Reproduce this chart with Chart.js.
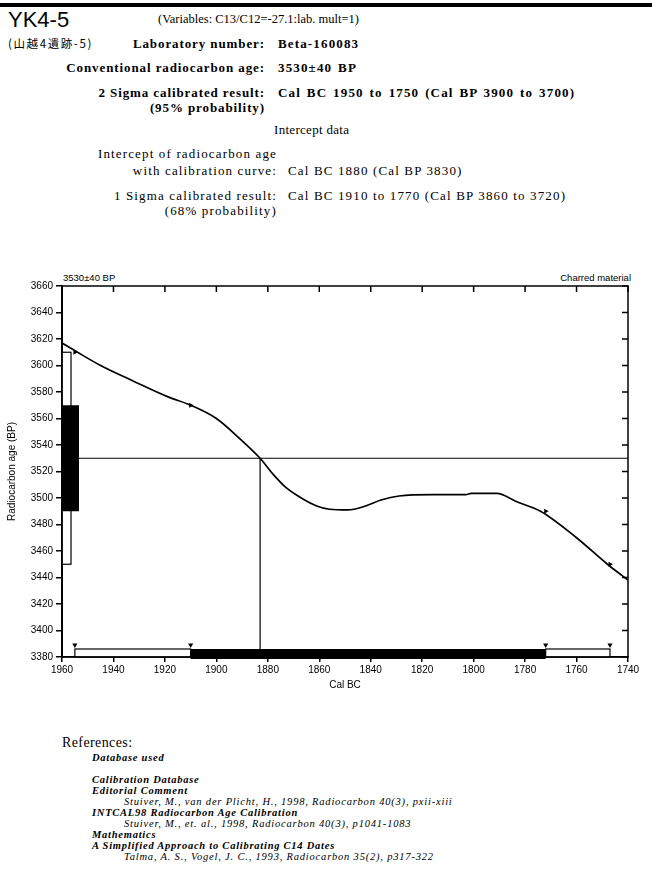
<!DOCTYPE html>
<html>
<head>
<meta charset="utf-8">
<script src="https://cdn.jsdelivr.net/npm/chart.js@4.4.0/dist/chart.umd.min.js"></script>
<style>
  html, body { margin: 0; padding: 0; background: #fff; }
  #page { position: relative; width: 652px; height: 870px; overflow: hidden; color: #000; }
  .t { position: absolute; white-space: nowrap; line-height: 1; }
  .serif { font-family: "Liberation Serif", "Times New Roman", serif; }
  .sans { font-family: "Liberation Sans", Arial, sans-serif; }
  .b { font-weight: bold; }
  .i { font-style: italic; }
  .lab { font-size: 13px; letter-spacing: 0.9px; }
  .val { font-size: 13px; letter-spacing: 1.15px; word-spacing: 1.5px; }
  .reg { font-size: 13px; letter-spacing: 1.15px; }
  .ref { font-size: 10.5px; letter-spacing: 0.75px; }
  .cite { font-size: 10.5px; letter-spacing: 0.8px; }
  #rule { position: absolute; left: 0; top: 3px; width: 652px; height: 4px; background: #000; }
  #chartBox { position: absolute; left: 0; top: 270px; width: 652px; height: 421px; }
</style>
</head>
<body>
<div id="page">
  <div id="rule"></div>
  <div class="t sans" style="left:8px;top:9px;font-size:22px;">YK4-5</div>
  <div class="t serif" style="left:158px;top:13px;font-size:12.5px;">(Variables: C13/C12=-27.1:lab. mult=1)</div>
  <div class="t" style="left:8px;top:38px;font-size:11.5px;letter-spacing:1.6px;font-family:'Noto Sans CJK JP',sans-serif;">(山越4遺跡-5)</div>

  <div class="t serif b lab" style="right:387px;top:37px;">Laboratory number:</div>
  <div class="t serif b val" style="left:278px;top:37px;">Beta-160083</div>
  <div class="t serif b lab" style="right:387px;top:61px;">Conventional radiocarbon age:</div>
  <div class="t serif b val" style="left:278px;top:61px;">3530±40 BP</div>
  <div class="t serif b lab" style="right:387px;top:86px;">2 Sigma calibrated result:</div>
  <div class="t serif b val" style="left:278px;top:86px;">Cal BC 1950 to 1750 (Cal BP 3900 to 3700)</div>
  <div class="t serif b lab" style="right:387px;top:101px;">(95% probability)</div>

  <div class="t serif" style="left:274px;top:123px;font-size:13px;letter-spacing:0.3px;">Intercept data</div>
  <div class="t serif reg" style="right:375px;top:147px;">Intercept of radiocarbon age</div>
  <div class="t serif reg" style="right:375px;top:164px;">with calibration curve:</div>
  <div class="t serif reg" style="left:288px;top:164px;">Cal BC 1880 (Cal BP 3830)</div>
  <div class="t serif reg" style="right:375px;top:189px;">1 Sigma calibrated result:</div>
  <div class="t serif reg" style="left:288px;top:189px;">Cal BC 1910 to 1770 (Cal BP 3860 to 3720)</div>
  <div class="t serif reg" style="right:375px;top:204px;">(68% probability)</div>

  <div class="t sans" style="left:63px;top:273px;font-size:9.5px;">3530±40 BP</div>
  <div class="t sans" style="right:21px;top:273px;font-size:9.5px;">Charred material</div>

  <div id="chartBox"><canvas id="calChart" width="652" height="421"></canvas></div>

  <div class="t serif" style="left:62px;top:736px;font-size:14px;letter-spacing:0.4px;">References:</div>
  <div class="t serif b i ref" style="left:92px;top:753px;">Database used</div>
  <div class="t serif b i ref" style="left:92px;top:775px;">Calibration Database</div>
  <div class="t serif b i ref" style="left:92px;top:786px;">Editorial Comment</div>
  <div class="t serif i cite" style="left:124px;top:797px;">Stuiver, M., van der Plicht, H., 1998, Radiocarbon 40(3), pxii-xiii</div>
  <div class="t serif b i ref" style="left:92px;top:808px;">INTCAL98 Radiocarbon Age Calibration</div>
  <div class="t serif i cite" style="left:124px;top:819px;">Stuiver, M., et. al., 1998, Radiocarbon 40(3), p1041-1083</div>
  <div class="t serif b i ref" style="left:92px;top:830px;">Mathematics</div>
  <div class="t serif b i ref" style="left:92px;top:841px;">A Simplified Approach to Calibrating C14 Dates</div>
  <div class="t serif i cite" style="left:124px;top:852px;">Talma, A. S., Vogel, J. C., 1993, Radiocarbon 35(2), p317-322</div>
</div>

<script>
// calibration curve (Cal BC, radiocarbon age BP)
const curveYears = [1960, 1954, 1945, 1932, 1919, 1910, 1900, 1891, 1883, 1878, 1873, 1867, 1861, 1856,
                    1849, 1842, 1836, 1829, 1816, 1803, 1801, 1791, 1783, 1774, 1760, 1748, 1742, 1740];
const curveAges = [3617, 3610, 3600, 3588, 3576.5, 3570, 3560, 3545, 3530, 3518, 3508, 3500, 3494, 3491.5,
                   3491, 3494, 3498.5, 3501.5, 3502.5, 3502.5, 3503.5, 3503.5, 3497, 3490, 3470, 3450, 3441, 3438];

// measured age and sigma ranges
const measuredAge = 3530;
const sigma1Age = [3490, 3570];
const sigma2Age = [3450, 3610];

// intercept
const interceptYear = 1883;

// calibrated ranges (Cal BC), start -> end
const sigma2Ranges = [[1955, 1910], [1772, 1747]];
const sigma1Ranges = [[1910, 1772]];

// range end markers
const rangeEnds = [1955, 1910, 1772, 1747];
const curveFlagAges = [3610, 3570, 3490, 3450];

// axes
const xMin = 1740, xMax = 1960, xStep = 20;
const yMin = 3380, yMax = 3660, yStep = 20;

const curvePoints = curveYears.map((yr, i) => ({ x: yr, y: curveAges[i] }));
const flagPoints = rangeEnds.map((yr, i) => ({ x: yr, y: curveFlagAges[i] }));
const endPoints = rangeEnds.map(yr => ({ x: yr, y: yMin + 9 }));

/**
 * Draw probability bars, frame and inner ticks
 */
const calibDecor = {
    id: 'calibDecor',
    afterDatasetsDraw(chart) {
        const { ctx, chartArea: a, scales: { x, y } } = chart;
        ctx.save();
        ctx.strokeStyle = '#000';
        ctx.lineWidth = 1.2;

        // age bars on y axis
        const y2a = y.getPixelForValue(sigma2Age[1]);
        const y2b = y.getPixelForValue(sigma2Age[0]);
        ctx.fillStyle = '#fff';
        ctx.fillRect(a.left, y2a, 9, y2b - y2a);
        ctx.strokeRect(a.left, y2a, 9, y2b - y2a);
        const y1a = y.getPixelForValue(sigma1Age[1]);
        const y1b = y.getPixelForValue(sigma1Age[0]);
        ctx.fillStyle = '#000';
        ctx.fillRect(a.left, y1a, 17, y1b - y1a);

        // calibrated ranges along x axis
        sigma2Ranges.forEach(([s, e]) => {
            const xa = x.getPixelForValue(s);
            const xb = x.getPixelForValue(e);
            ctx.fillStyle = '#fff';
            ctx.fillRect(xa, a.bottom - 8, xb - xa, 8);
            ctx.strokeRect(xa, a.bottom - 8, xb - xa, 8);
        });
        sigma1Ranges.forEach(([s, e]) => {
            const xa = x.getPixelForValue(s);
            const xb = x.getPixelForValue(e);
            ctx.fillStyle = '#000';
            ctx.fillRect(xa, a.bottom - 8, xb - xa, 10);
        });

        // frame
        ctx.lineWidth = 1.5;
        ctx.strokeRect(a.left, a.top, a.right - a.left, a.bottom - a.top);

        // inner ticks, top and right
        ctx.beginPath();
        x.ticks.forEach(t => {
            const px = x.getPixelForValue(t.value);
            ctx.moveTo(px, a.top);
            ctx.lineTo(px, a.top + 6);
        });
        y.ticks.forEach(t => {
            const py = y.getPixelForValue(t.value);
            ctx.moveTo(a.right, py);
            ctx.lineTo(a.right - 6, py);
        });
        ctx.stroke();
        ctx.restore();
    }
};

const tickFont = { family: '"Liberation Sans", Arial, sans-serif', size: 10 };

new Chart(document.getElementById('calChart'), {
    type: 'scatter',
    data: {
        datasets: [
            {
                // calibration curve
                data: curvePoints,
                showLine: true,
                borderColor: '#000',
                borderWidth: 1.7,
                cubicInterpolationMode: 'monotone',
                pointRadius: 0
            },
            {
                // measured age line
                data: [{ x: xMax, y: measuredAge }, { x: xMin, y: measuredAge }],
                showLine: true,
                borderColor: '#000',
                borderWidth: 1,
                pointRadius: 0
            },
            {
                // intercept line
                data: [{ x: interceptYear, y: measuredAge }, { x: interceptYear, y: yMin }],
                showLine: true,
                borderColor: '#000',
                borderWidth: 1.2,
                pointRadius: 0
            },
            {
                // flags on curve
                data: flagPoints,
                showLine: false,
                pointStyle: 'triangle',
                rotation: 90,
                pointRadius: 3,
                backgroundColor: '#000',
                borderColor: '#000',
                borderWidth: 0
            },
            {
                // range end markers
                data: endPoints,
                showLine: false,
                pointStyle: 'triangle',
                rotation: 180,
                pointRadius: 3,
                backgroundColor: '#000',
                borderColor: '#000',
                borderWidth: 0
            }
        ]
    },
    options: {
        responsive: false,
        animation: false,
        layout: { padding: { top: 16, right: 24, left: 0, bottom: 0 } },
        plugins: {
            legend: { display: false },
            tooltip: { enabled: false }
        },
        scales: {
            x: {
                type: 'linear',
                reverse: true,
                min: xMin,
                max: xMax,
                ticks: {
                    stepSize: xStep, color: '#000', font: tickFont, padding: 2, maxRotation: 0,
                    callback: v => String(v)
                },
                grid: { drawOnChartArea: false, tickLength: 5, color: '#000', lineWidth: 1.5 },
                border: { color: '#000', width: 1.5 },
                title: { display: true, text: 'Cal BC', color: '#000', font: tickFont, padding: { top: 0, bottom: 0 } },
                afterFit(scale) { scale.height = 34; }
            },
            y: {
                min: yMin,
                max: yMax,
                ticks: {
                    stepSize: yStep, color: '#000', font: tickFont, padding: 3,
                    callback: v => String(v)
                },
                grid: { drawOnChartArea: false, tickLength: 6, color: '#000', lineWidth: 1.5 },
                border: { color: '#000', width: 2 },
                title: { display: true, text: 'Radiocarbon age (BP)', color: '#000', font: tickFont, padding: { top: 6, bottom: 0 } },
                afterFit(scale) { scale.width = 62; }
            }
        }
    },
    plugins: [calibDecor]
});
</script>
</body>
</html>
